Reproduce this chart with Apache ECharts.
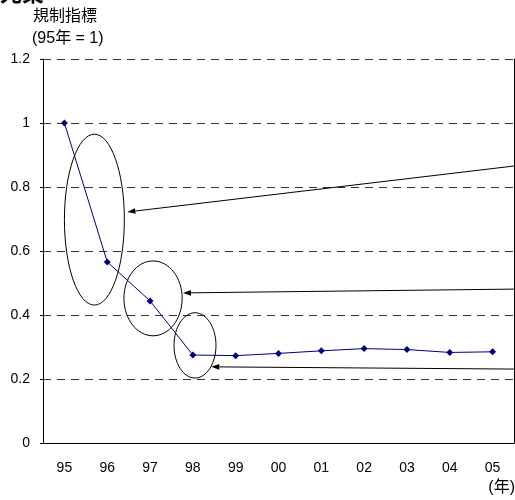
<!DOCTYPE html>
<html>
<head>
<meta charset="utf-8">
<style>
  html, body { margin: 0; padding: 0; background: #fff; }
  #chart { width: 515px; height: 500px; }
</style>
<script src="https://cdn.jsdelivr.net/npm/echarts@6/dist/echarts.min.js"></script>
</head>
<body>
<div id="chart"></div>
<script>
// Years on the category axis and the regulation index (1995 = 1)
const years = ['95', '96', '97', '98', '99', '00', '01', '02', '03', '04', '05'];
const regulationIndex = [1.0, 0.566, 0.444, 0.275, 0.273, 0.280, 0.288, 0.295, 0.292, 0.283, 0.285];
const yTicks = [0, 0.2, 0.4, 0.6, 0.8, 1, 1.2];

// Highlight circles: centre [year index, value], radius [in years, in value]
const highlightCircles = [
  { c: [0.70, 0.698], r: [0.70, 0.267] },
  { c: [2.07, 0.452], r: [0.68, 0.117] },
  { c: [3.05, 0.305], r: [0.49, 0.102] }
];
// Callout arrows: tip [year index, value] and value where they leave the right edge
const callouts = [
  { tip: [1.47, 0.722], fromValue: 0.866 },
  { tip: [2.77, 0.469], fromValue: 0.481 },
  { tip: [3.43, 0.238], fromValue: 0.231 }
];

const latin = '"Liberation Sans", Arial, sans-serif';
const cjk = '"Liberation Sans", "Noto Sans CJK JP", sans-serif';

const chart = echarts.init(document.getElementById('chart'), null, { renderer: 'canvas' });

chart.setOption({
  animation: false,
  backgroundColor: '#fff',
  grid: { left: 43, right: 1, top: 59, bottom: 57, containLabel: false },
  xAxis: {
    type: 'category',
    data: years,
    boundaryGap: true,
    axisLine: { lineStyle: { color: '#000', width: 1 } },
    axisTick: { inside: true, length: 4, lineStyle: { color: '#000' } },
    axisLabel: { color: '#000', fontSize: 14, fontFamily: latin, margin: 18 },
    splitLine: { show: false }
  },
  yAxis: [{
    type: 'value',
    min: 0,
    max: 1.2,
    interval: 0.2,
    axisLine: { show: true, lineStyle: { color: '#000', width: 1 } },
    axisTick: { show: true, length: 3, lineStyle: { color: '#000' } },
    axisLabel: {
      color: '#000', fontSize: 14, fontFamily: latin, margin: 13,
      formatter: v => {
        const t = yTicks.find(k => Math.abs(k - v) < 1e-9);
        return t === undefined ? '' : String(t);
      }
    },
    splitLine: { show: true, lineStyle: { color: '#333', type: [8, 6], width: 1 } }
  }, {
    type: 'value',
    position: 'right',
    min: 0,
    max: 1.2,
    interval: 0.2,
    axisLine: { show: true, lineStyle: { color: '#000', width: 1 } },
    axisTick: { show: false },
    axisLabel: { show: false },
    splitLine: { show: false }
  }],
  series: [{
    type: 'line',
    data: regulationIndex,
    symbol: 'diamond',
    symbolSize: 7,
    lineStyle: { color: '#000080', width: 1 },
    itemStyle: { color: '#000080' }
  }]
});

// Map fractional year index / value onto pixels through the axes
function toPx(idx, val) {
  const x0 = chart.convertToPixel({ xAxisIndex: 0 }, 0);
  const x1 = chart.convertToPixel({ xAxisIndex: 0 }, years.length - 1);
  const y0 = chart.convertToPixel({ yAxisIndex: 0 }, 0);
  const y1 = chart.convertToPixel({ yAxisIndex: 0 }, 1.2);
  return [x0 + (x1 - x0) * idx / (years.length - 1), y0 + (y1 - y0) * val / 1.2];
}
function yearStep() {
  return (toPx(1, 0)[0] - toPx(0, 0)[0]);
}
function valueStep() {
  return (toPx(0, 0)[1] - toPx(0, 1)[1]);
}

const elements = [];
highlightCircles.forEach(h => {
  const [cx, cy] = toPx(h.c[0], h.c[1]);
  elements.push({
    type: 'ellipse',
    shape: { cx, cy, rx: h.r[0] * yearStep(), ry: h.r[1] * valueStep() },
    style: { fill: null, stroke: '#000', lineWidth: 1 },
    z: 10
  });
});
callouts.forEach(a => {
  const [tx, ty] = toPx(a.tip[0], a.tip[1]);
  const sx = chart.getWidth();
  const sy = toPx(0, a.fromValue)[1];
  const len = Math.hypot(tx - sx, ty - sy);
  const ux = (tx - sx) / len, uy = (ty - sy) / len;
  const hl = 8, hw = 2.8;
  const bx = tx - ux * hl, by = ty - uy * hl;
  elements.push({
    type: 'line',
    shape: { x1: sx, y1: sy, x2: bx, y2: by },
    style: { stroke: '#000', lineWidth: 1 },
    z: 10
  });
  elements.push({
    type: 'polygon',
    shape: { points: [[tx, ty], [bx - uy * hw, by + ux * hw], [bx + uy * hw, by - ux * hw]] },
    style: { fill: '#000' },
    z: 10
  });
});

// Heading and axis captions
elements.push({
  type: 'text', left: 0, top: -18,
  style: { text: '光業', font: 'bold 22px "Noto Sans CJK JP", sans-serif', fill: '#000' }
});
elements.push({
  type: 'text', left: 33, top: 7,
  style: { text: '規制指標', font: '16px "Noto Sans CJK JP", sans-serif', fill: '#000' }
});
elements.push({
  type: 'text', left: 32, top: 31,
  style: { text: '(95年 = 1)', font: '16px ' + cjk, fill: '#000' }
});
elements.push({
  type: 'text', right: 0, top: 480,
  style: { text: '(年)', font: '16px ' + cjk, fill: '#000' }
});

chart.setOption({ graphic: { elements } });
</script>
</body>
</html>
